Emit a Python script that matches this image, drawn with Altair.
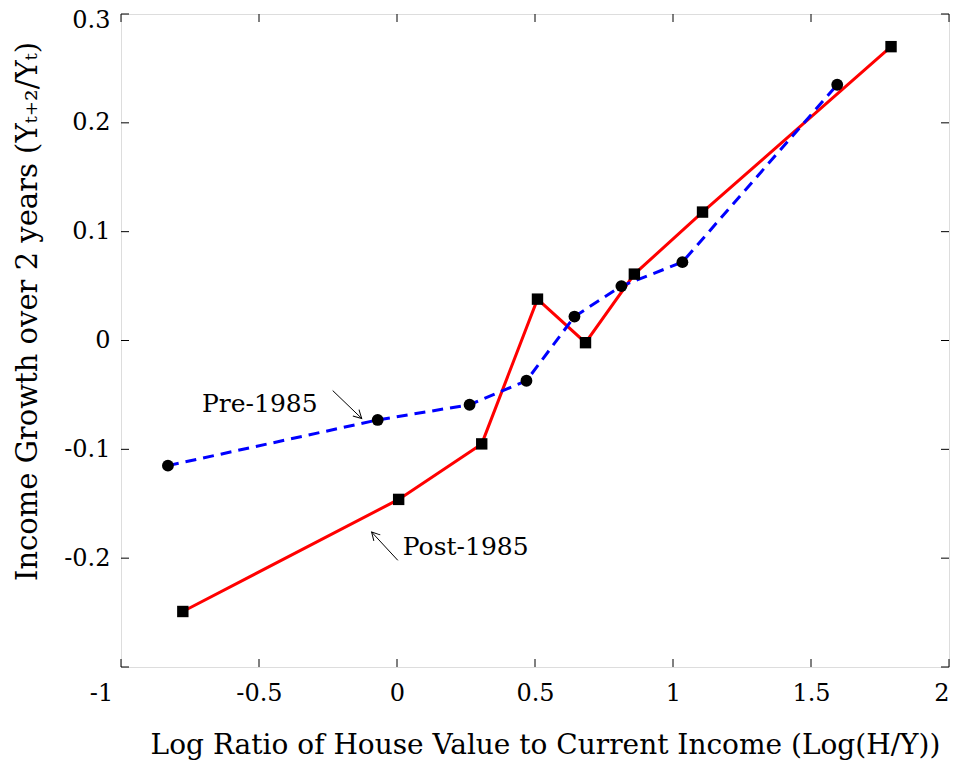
import altair as alt
import pandas as pd

# Pre-1985 series (circles, blue dashed)
pre_x = [-0.830, -0.070, 0.263, 0.469, 0.643, 0.813, 1.034, 1.595]
pre_y = [-0.115, -0.073, -0.059, -0.037, 0.022, 0.050, 0.072, 0.235]

# Post-1985 series (squares, red solid)
post_x = [-0.776, 0.006, 0.307, 0.509, 0.683, 0.860, 1.107, 1.790]
post_y = [-0.249, -0.146, -0.095, 0.038, -0.002, 0.061, 0.118, 0.270]

x_ticks = [-1, -0.5, 0, 0.5, 1, 1.5, 2]
y_ticks = [-0.3, -0.2, -0.1, 0, 0.1, 0.2, 0.3]
y_labels = [-0.2, -0.1, 0, 0.1, 0.2, 0.3]

# annotations
ann_text = ["Pre-1985", "Post-1985"]
ann_tx = [-0.497, 0.021]
ann_ty = [-0.058, -0.190]
arrow_x1 = [-0.233, 0.003]
arrow_y1 = [-0.046, -0.202]
arrow_x2 = [-0.128, -0.092]
arrow_y2 = [-0.0716, -0.176]
arrow_angle = [44, 227]

FONT = "DejaVu Serif"
W, H = 828, 653

pre = pd.DataFrame({"x": pre_x, "y": pre_y})
post = pd.DataFrame({"x": post_x, "y": post_y})

xs = alt.Scale(domain=[-1, 2], nice=False, zero=False)
ys = alt.Scale(domain=[-0.3, 0.3], nice=False, zero=False)

xaxis = alt.Axis(values=x_ticks, tickSize=0, domain=False, grid=False,
                 labelExpr="'' + datum.value", labelFont=FONT, labelFontSize=24,
                 labelColor="black", labelPadding=14, labelFlush=False, labelOverlap=False,
                 labelBound=False,
                 labelAlign=alt.condition("datum.value == 2", alt.value("right"), alt.value("center")),
                 labelOffset=alt.condition("datum.value == -1", alt.value(-20), alt.value(0)),
                 title="Log Ratio of House Value to Current Income (Log(H/Y))",
                 titleFont=FONT, titleFontSize=28, titleFontWeight="normal", titleColor="black",
                 titleX=424, titleY=78, titleBaseline="middle", titleAlign="center")
yaxis = alt.Axis(values=y_labels, tickSize=0, domain=False, grid=False,
                 labelExpr="'' + datum.value", labelFont=FONT, labelFontSize=24,
                 labelColor="black", labelPadding=11, labelFlush=False, labelOverlap=False,
                 labelBound=False,
                 labelOffset=alt.condition("datum.value == 0.3", alt.value(6), alt.value(0)),
                 title="Income Growth over 2 years (Yₜ₊₂/Yₜ)",
                 titleFont=FONT, titleFontSize=29, titleFontWeight="normal", titleColor="black",
                 titleX=-94, titleY=297, titleAngle=270, titleBaseline="middle", titleAlign="center")

base_x = alt.X("x:Q", scale=xs, axis=xaxis)
base_y = alt.Y("y:Q", scale=ys, axis=yaxis)

post_line = alt.Chart(post).mark_line(color="#ff0000", strokeWidth=3).encode(x=base_x, y=base_y)
pre_line = alt.Chart(pre).mark_line(color="#0000ff", strokeWidth=3, strokeDash=[11, 7]).encode(
    x=alt.X("x:Q", scale=xs), y=alt.Y("y:Q", scale=ys))
pre_pts = alt.Chart(pre).mark_point(shape="circle", filled=True, color="black", size=140, opacity=1).encode(
    x=alt.X("x:Q", scale=xs), y=alt.Y("y:Q", scale=ys))
post_pts = alt.Chart(post).mark_point(shape="square", filled=True, color="black", size=130, opacity=1).encode(
    x=alt.X("x:Q", scale=xs), y=alt.Y("y:Q", scale=ys))

# inward ticks on all sides
xt = pd.DataFrame({"x": x_ticks})
yt = pd.DataFrame({"y": y_ticks})
tick_b = alt.Chart(xt).mark_rule(color="black", strokeWidth=1).encode(
    x=alt.X("x:Q", scale=xs), y=alt.value(H), y2=alt.value(H - 8))
tick_t = alt.Chart(xt).mark_rule(color="black", strokeWidth=1).encode(
    x=alt.X("x:Q", scale=xs), y=alt.value(0), y2=alt.value(8))
tick_l = alt.Chart(yt).mark_rule(color="black", strokeWidth=1).encode(
    y=alt.Y("y:Q", scale=ys), x=alt.value(0), x2=alt.value(8))
tick_r = alt.Chart(yt).mark_rule(color="black", strokeWidth=1).encode(
    y=alt.Y("y:Q", scale=ys), x=alt.value(W - 8), x2=alt.value(W))

ann = pd.DataFrame({"t": ann_text, "x": ann_tx, "y": ann_ty})
ann_pre = alt.Chart(ann.iloc[[0]]).mark_text(font=FONT, fontSize=25, color="black", align="center",
                                              baseline="middle").encode(
    x=alt.X("x:Q", scale=xs), y=alt.Y("y:Q", scale=ys), text="t:N")
ann_post = alt.Chart(ann.iloc[[1]]).mark_text(font=FONT, fontSize=25, color="black", align="left",
                                               baseline="middle").encode(
    x=alt.X("x:Q", scale=xs), y=alt.Y("y:Q", scale=ys), text="t:N")

arr = pd.DataFrame({"x1": arrow_x1, "y1": arrow_y1, "x2": arrow_x2, "y2": arrow_y2, "ang": arrow_angle})
shafts = alt.Chart(arr).mark_rule(color="black", strokeWidth=1).encode(
    x=alt.X("x1:Q", scale=xs), y=alt.Y("y1:Q", scale=ys), x2="x2:Q", y2="y2:Q")
heads = alt.Chart(arr).mark_point(shape="M -1 -0.55 L 0 0 L -1 0.55", filled=False, color="black",
                                  strokeWidth=1, size=256, opacity=1).encode(
    x=alt.X("x2:Q", scale=xs), y=alt.Y("y2:Q", scale=ys), angle=alt.Angle("ang:Q", scale=None))

chart = alt.layer(
    post_line, pre_line, post_pts, pre_pts,
    tick_b, tick_t, tick_l, tick_r,
    ann_pre, ann_post, shafts, heads,
).properties(
    width=W, height=H,
    autosize=alt.AutoSizeParams(type="none"),
    padding={"left": 113, "top": 6, "right": 1, "bottom": 94},
).configure_view(stroke="black", strokeWidth=2).configure(background="white")

chart.save("out.html", embed_options={"renderer": "svg", "actions": False})
